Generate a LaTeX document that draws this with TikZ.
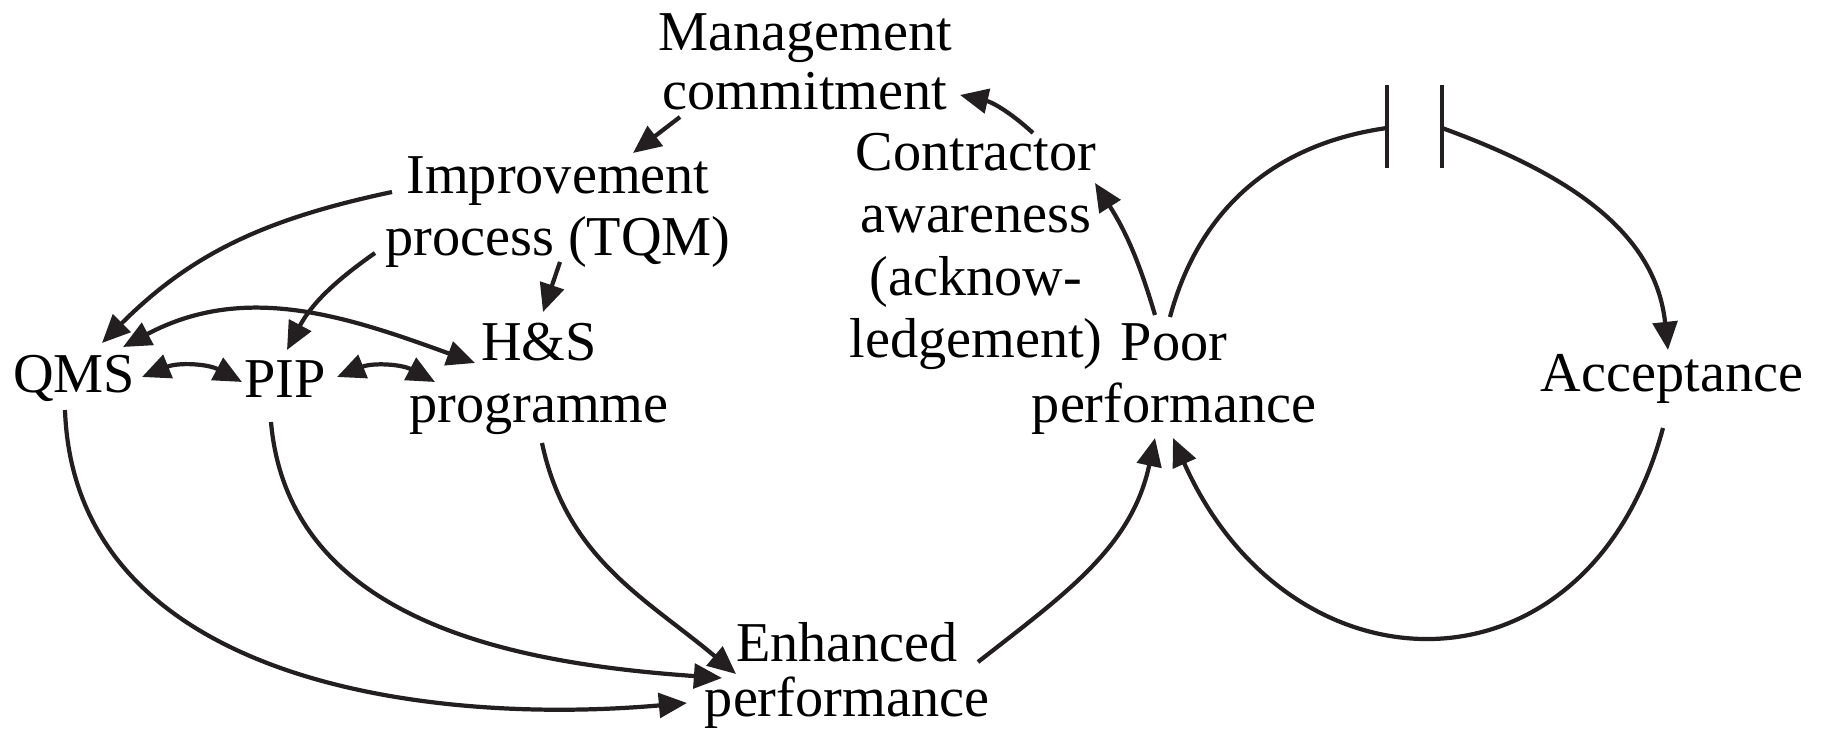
\documentclass[tikz,border=0pt]{standalone}
\usepackage{fontspec}
\setmainfont{Liberation Serif}
\usepackage{tikz}
\usetikzlibrary{arrows.meta}

\definecolor{ink}{RGB}{35,31,32}

\begin{document}
\begin{tikzpicture}[x=0.01cm,y=-0.01cm]
			\tikzstyle{Factor}	= [inner sep=0pt, anchor=base, align=center, font=\fontsize{16}{17.8}\selectfont]
			\tikzstyle{Plain}	= [line width=1.2pt, draw=ink]
			\tikzstyle{Link}	= [Plain, -{Triangle[length=8pt,width=7pt]}]
			\tikzstyle{Both}	= [Plain, {Triangle[length=8pt,width=7pt]}-{Triangle[length=8pt,width=7pt]}]

			\useasboundingbox (0,0) rectangle (1823,734);

			% base anchor = baseline of the last line
			\node (mgmt) at (805,110) [Factor] {Management\\[-0.03cm]commitment};
			\node (imp) at (558,256) [Factor] {Improvement\\process (TQM)};
			\node (qms) at (74,393) [Factor] {QMS};
			\node (pip) at (285,398) [Factor] {PIP};
			\node (hs) at (539,423) [Factor] {H\&S\\programme};
			\node (enh) at (847,717) [Factor] {Enhanced\\[-0.07cm]performance};
			\node (con) at (976,358) [Factor] {Contractor\\awareness\\(acknow-\\ledgement)};
			\node (poor) at (1174,423) [Factor] {Poor\\performance};
			\node (acc) at (1672,392) [Factor] {Acceptance};

			% delay on the right loop
			\coordinate (gapL) at (1387,128);
			\coordinate (gapR) at (1442,128);
			\draw [Plain] ([shift={(0,-43)}]gapL) -- ([shift={(0,40)}]gapL);
			\draw [Plain] ([shift={(0,-43)}]gapR) -- ([shift={(0,40)}]gapR);

			% top loop
			\draw [Link] ([shift={(-125,7)}]mgmt.base) to ([shift={(75,-103)}]imp.base);
			\draw [Link] ([shift={(57,-225)}]con.base) to[bend right=15] ([shift={(155,-15)}]mgmt.base);
			\draw [Link] ([shift={(-19,-108)}]poor.base) to[bend right=8] ([shift={(119,-175)}]con.base);

			\draw [Link] ([shift={(-166,-64)}]imp.base) to[out=192,in=45] ([shift={(28,-50)}]qms.base);
			\draw [Link] ([shift={(-183,-3)}]imp.base) to[out=215,in=62] ([shift={(2,-48)}]pip.base);
			\draw [Link] ([shift={(2,6)}]imp.base) to ([shift={(4,-111)}]hs.base);

			\draw [Both] ([shift={(49,-46)}]qms.base) to[out=28,in=160] ([shift={(-64,-60)}]hs.base);
			\draw [Both] ([shift={(68,-16)}]qms.base) to[bend left=25] ([shift={(-43,-16)}]pip.base);
			\draw [Both] ([shift={(52,-21)}]pip.base) to[bend left=25] ([shift={(-104,-41)}]hs.base);

			\draw [Link] ([shift={(-9,17)}]qms.base) to[out=-88,in=185] ([shift={(-160,-14)}]enh.base);
			\draw [Link] ([shift={(-14,24)}]pip.base) to[out=-85,in=176] ([shift={(-125,-39)}]enh.base);
			\draw [Link] ([shift={(3,20)}]hs.base) to[out=-78,in=140] ([shift={(-111,-43)}]enh.base);

			% right loop
			\draw [Link] ([shift={(131,-55)}]enh.base) to[out=38,in=-102] ([shift={(-19,15)}]poor.base);
			\draw [Plain] ([shift={(-4,-106)}]poor.base) to[out=75,in=188] (gapL);
			\draw [Link] (gapR) to[out=-20,in=96] ([shift={(-4,-42)}]acc.base);
			\draw [Link] ([shift={(-9,36)}]acc.base) to[out=-105,in=-66,looseness=1.5] ([shift={(-1,15)}]poor.base);
		\end{tikzpicture}
\end{document}
